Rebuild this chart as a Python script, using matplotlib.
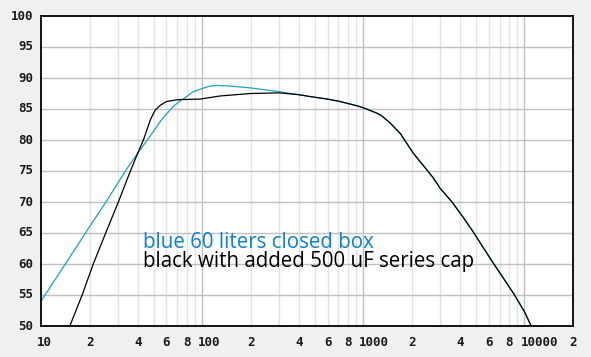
import numpy as np
import matplotlib.pyplot as plt
from matplotlib.transforms import ScaledTranslation

# blue: 60 liter closed box
freq_blue = [10, 15, 20, 25.3, 30.9, 35, 41.2, 49.6, 55, 60.6, 66, 72.9, 80, 88, 100, 112,
             125, 150, 200, 300, 400, 469, 600, 720, 918, 1000, 1222, 1300, 1473, 1701,
             2038, 2473, 2714, 3000, 3550, 4200, 4800, 5500, 6380, 7400, 8530, 10000,
             11000, 11500]
spl_blue = [54.0, 61.0, 66.0, 70.0, 73.6, 75.8, 78.4, 81.3, 83.0, 84.3, 85.4, 86.3, 87.0,
            87.8, 88.3, 88.7, 88.8, 88.7, 88.4, 87.8, 87.3, 87.0, 86.6, 86.2, 85.5, 85.2,
            84.3, 83.9, 82.7, 81.0, 77.9, 75.2, 73.9, 72.2, 70.0, 67.4, 65.2, 62.8, 60.2,
            57.7, 55.3, 52.3, 50.0, 49.2]

# black: with 500 uF series cap
freq_black = [14.5, 15.1, 18, 21.1, 25.2, 30.2, 35, 40, 43.2, 47.6, 51, 55, 60, 70, 97,
              129, 200, 300, 400, 469, 600, 720, 918, 1000, 1222, 1300, 1473, 1701, 2038,
              2473, 2714, 3000, 3550, 4200, 4800, 5500, 6380, 7400, 8530, 10000, 11000, 11500]
spl_black = [48.8, 50.0, 55.0, 60.0, 65.0, 70.0, 74.3, 78.0, 80.0, 83.2, 84.8, 85.6, 86.2,
             86.5, 86.6, 87.1, 87.5, 87.6, 87.3, 87.0, 86.6, 86.2, 85.5, 85.2, 84.3, 83.9,
             82.7, 81.0, 77.9, 75.2, 73.9, 72.2, 70.0, 67.4, 65.2, 62.8, 60.2, 57.7, 55.3,
             52.3, 50.0, 49.2]

xticks = [10, 20, 40, 60, 80, 100, 200, 400, 600, 800, 1000, 2000, 4000, 6000, 8000, 10000, 20000]
xlabels = ['10', '2', '4', '6', '8', '100', '2', '4', '6', '8', '1000', '2', '4', '6', '8', '10000', '2']
yticks = [50, 55, 60, 65, 70, 75, 80, 85, 90, 95, 100]

fig = plt.figure(figsize=(5.91, 3.57), dpi=100, facecolor='#f0f0f0')
ax = fig.add_axes([41/591, 31/357, 532/591, 310/357])
ax.set_facecolor('white')

# grid
minor = [m * d for d in (10, 100, 1000, 10000) for m in range(2, 10)]
for f in minor:
    ax.axvline(f, color='#e2e2e2', lw=1, zorder=0)
for f in (100, 1000, 10000):
    ax.axvline(f, color='#c0c0c0', lw=1, zorder=0)
for y in yticks[1:-1]:
    ax.axhline(y, color='#c0c0c0', lw=1, zorder=0)

ax.plot(freq_blue, spl_blue, color='#18a3c9', lw=0.9)
ax.plot(freq_black, spl_black, color='black', lw=0.9)

ax.set_xscale('log')
ax.set_xlim(10, 20000)
ax.set_ylim(50, 100)
ax.set_xticks([])
ax.set_xticks([], minor=True)
ax.set_yticks([])

tick_font = dict(family='DejaVu Sans Mono', fontweight='bold', fontsize=9, color='#1a1a1a')
for f, lab in zip(xticks, xlabels):
    if len(lab) > 1:
        off = ScaledTranslation(-4/100, -16/100, fig.dpi_scale_trans)
        ha = 'left'
    else:
        off = ScaledTranslation(0, -16/100, fig.dpi_scale_trans)
        ha = 'center'
    ax.text(f, 0, lab, transform=ax.get_xaxis_transform() + off, ha=ha, va='center',
            clip_on=False, **tick_font)
for y in yticks:
    off = ScaledTranslation(-8/100, 0, fig.dpi_scale_trans)
    ax.text(0, y, str(y), transform=ax.get_yaxis_transform() + off, ha='right', va='center',
            clip_on=False, **tick_font)

for s in ax.spines.values():
    s.set_linewidth(1.3)
    s.set_color('black')

ax.text(43, 62.66, 'blue 60 liters closed box', color='#0a7fd6', fontsize=14.8,
        family='Open Sans', va='baseline')
ax.text(43, 59.5, 'black with added 500 uF series cap', color='black', fontsize=14.8,
        family='Open Sans', va='baseline')

fig.savefig('out.png', dpi=100, facecolor=fig.get_facecolor())
